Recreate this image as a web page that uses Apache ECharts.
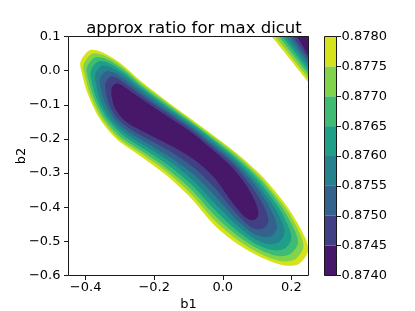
<!DOCTYPE html>
<html><head><meta charset="utf-8">
<script src="https://cdn.jsdelivr.net/npm/echarts@6/dist/echarts.min.js"></script>
<style>html,body{margin:0;padding:0;background:#fff}#c{width:415px;height:311px}</style>
</head><body><div id="c"></div>
<script>
// ---- data ----
const xRange = [-0.45, 0.25];
const yRange = [-0.6, 0.1];
const xTicks = [-0.4, -0.2, 0.0, 0.2];
const yTicks = [-0.6, -0.5, -0.4, -0.3, -0.2, -0.1, 0.0, 0.1];
const levels = [0.874, 0.8745, 0.875, 0.8755, 0.876, 0.8765, 0.877, 0.8775, 0.878];

// main valley contours (b1, b2), outermost level first
const c8780 = [[-0.415,0.026],[-0.388,0.060],[-0.347,0.052],[-0.300,0.023],[-0.242,-0.028],[-0.169,-0.085],[-0.096,-0.139],[-0.023,-0.193],[0.050,-0.250],[0.123,-0.318],[0.196,-0.410],[0.240,-0.489],[0.249,-0.530],[0.222,-0.566],[0.181,-0.571],[0.123,-0.552],[0.050,-0.512],[-0.023,-0.454],[-0.096,-0.370],[-0.169,-0.303],[-0.242,-0.249],[-0.309,-0.201],[-0.359,-0.141],[-0.394,-0.068],[-0.412,-0.003]];
const c8775 = [[-0.406,0.018],[-0.380,0.050],[-0.342,0.043],[-0.297,0.015],[-0.241,-0.034],[-0.169,-0.089],[-0.097,-0.142],[-0.024,-0.196],[0.048,-0.253],[0.117,-0.320],[0.186,-0.407],[0.226,-0.480],[0.235,-0.519],[0.210,-0.553],[0.171,-0.558],[0.117,-0.540],[0.047,-0.499],[-0.023,-0.440],[-0.094,-0.360],[-0.166,-0.295],[-0.238,-0.243],[-0.304,-0.198],[-0.352,-0.141],[-0.386,-0.072],[-0.403,-0.010]];
const c8770 = [[-0.396,0.010],[-0.372,0.039],[-0.337,0.033],[-0.294,0.006],[-0.239,-0.041],[-0.169,-0.094],[-0.097,-0.146],[-0.026,-0.200],[0.045,-0.257],[0.111,-0.321],[0.174,-0.403],[0.211,-0.471],[0.219,-0.507],[0.196,-0.538],[0.161,-0.543],[0.111,-0.526],[0.045,-0.485],[-0.023,-0.425],[-0.092,-0.348],[-0.163,-0.287],[-0.234,-0.237],[-0.298,-0.194],[-0.345,-0.141],[-0.377,-0.077],[-0.394,-0.018]];
const c8765 = [[-0.385,0.001],[-0.363,0.027],[-0.330,0.021],[-0.290,-0.005],[-0.237,-0.049],[-0.169,-0.100],[-0.098,-0.150],[-0.027,-0.204],[0.042,-0.261],[0.104,-0.323],[0.161,-0.398],[0.193,-0.460],[0.200,-0.493],[0.181,-0.521],[0.149,-0.526],[0.103,-0.511],[0.041,-0.468],[-0.023,-0.408],[-0.090,-0.335],[-0.159,-0.277],[-0.229,-0.230],[-0.291,-0.189],[-0.336,-0.141],[-0.368,-0.082],[-0.383,-0.028]];
const c8760 = [[-0.372,-0.010],[-0.352,0.014],[-0.323,0.008],[-0.286,-0.016],[-0.235,-0.057],[-0.169,-0.106],[-0.099,-0.155],[-0.029,-0.209],[0.039,-0.266],[0.096,-0.326],[0.146,-0.393],[0.174,-0.447],[0.180,-0.477],[0.164,-0.502],[0.135,-0.508],[0.095,-0.494],[0.038,-0.450],[-0.023,-0.389],[-0.088,-0.320],[-0.155,-0.266],[-0.224,-0.222],[-0.284,-0.184],[-0.327,-0.142],[-0.357,-0.088],[-0.370,-0.038]];
const c8755 = [[-0.358,-0.022],[-0.340,-0.002],[-0.316,-0.007],[-0.282,-0.029],[-0.233,-0.067],[-0.169,-0.113],[-0.100,-0.160],[-0.031,-0.214],[0.036,-0.271],[0.088,-0.328],[0.130,-0.388],[0.152,-0.434],[0.158,-0.460],[0.145,-0.482],[0.121,-0.487],[0.086,-0.475],[0.034,-0.430],[-0.023,-0.367],[-0.085,-0.304],[-0.151,-0.255],[-0.218,-0.214],[-0.276,-0.179],[-0.316,-0.142],[-0.344,-0.094],[-0.357,-0.049]];
const c8750 = [[-0.342,-0.035],[-0.327,-0.018],[-0.307,-0.022],[-0.277,-0.043],[-0.230,-0.078],[-0.169,-0.120],[-0.101,-0.166],[-0.033,-0.220],[0.032,-0.276],[0.078,-0.331],[0.112,-0.382],[0.129,-0.419],[0.133,-0.441],[0.124,-0.459],[0.104,-0.465],[0.076,-0.454],[0.029,-0.407],[-0.023,-0.344],[-0.082,-0.286],[-0.146,-0.241],[-0.212,-0.204],[-0.267,-0.173],[-0.305,-0.142],[-0.331,-0.101],[-0.342,-0.061]];
const c8745 = [[-0.324,-0.050],[-0.312,-0.038],[-0.297,-0.041],[-0.271,-0.059],[-0.227,-0.090],[-0.169,-0.129],[-0.102,-0.173],[-0.035,-0.227],[0.027,-0.283],[0.067,-0.334],[0.091,-0.375],[0.101,-0.401],[0.104,-0.419],[0.099,-0.432],[0.085,-0.438],[0.064,-0.429],[0.024,-0.381],[-0.023,-0.316],[-0.078,-0.265],[-0.140,-0.226],[-0.204,-0.193],[-0.256,-0.166],[-0.291,-0.142],[-0.315,-0.109],[-0.324,-0.076]];

// upper-right corner contours, outermost level first
const k8780 = [[0.143,0.1],[0.25,0.1],[0.25,-0.035]];
const k8775 = [[0.153,0.1],[0.25,0.1],[0.25,-0.024]];
const k8770 = [[0.164,0.1],[0.25,0.1],[0.25,-0.012]];
const k8765 = [[0.174,0.1],[0.25,0.1],[0.25,0.000]];
const k8760 = [[0.184,0.1],[0.25,0.1],[0.25,0.011]];
const k8755 = [[0.194,0.1],[0.25,0.1],[0.25,0.023]];
const k8750 = [[0.204,0.1],[0.25,0.1],[0.25,0.034]];
const k8745 = [[0.216,0.1],[0.25,0.1],[0.25,0.044]];

// ---- style ----
const bandColors = ['#47186a','#424085','#33628d','#26818e','#1f9f88','#3fbc73','#82d34c','#d6e21b'];
const font = 'DejaVu Sans';
const fmt1 = v => (v < -1e-9 ? '\u2212' : '') + Math.abs(v).toFixed(1);

const mainPolys = [c8780, c8775, c8770, c8765, c8760, c8755, c8750, c8745];
const cornerPolys = [k8780, k8775, k8770, k8765, k8760, k8755, k8750, k8745];

function polyRenderer(list, smooth) {
  return (params, api) => ({
    type: 'polygon',
    shape: { points: list[params.dataIndex].map(p => api.coord(p)), smooth: smooth },
    style: { fill: bandColors[7 - params.dataIndex] }
  });
}
function frameRenderer(params, api) {
  const cs = params.coordSys;
  return { type: 'rect', shape: { x: cs.x, y: cs.y, width: cs.width, height: cs.height },
    style: { fill: 'none', stroke: '#1a1a1a', lineWidth: 1 } };
}

const tickStyle = { color: '#1a1a1a', width: 1 };
const labelStyle = { color: '#000', fontSize: 13, fontFamily: font };
const hiddenLine = { show: false, onZero: false };

const chart = echarts.init(document.getElementById('c'), null, { renderer: 'canvas', width: 415, height: 311 });
chart.setOption({
  backgroundColor: '#fff',
  animation: false,
  title: { text: 'approx ratio for max dicut', left: 189, top: 15, textAlign: 'center',
    textStyle: { fontFamily: font, fontSize: 16.5, fontWeight: 'normal', color: '#000' } },
  grid: [
    { left: 68.5, top: 36.5, width: 240, height: 239, containLabel: false, outerBoundsMode: 'none' },
    { left: 324.5, top: 36.5, width: 12, height: 239, containLabel: false, outerBoundsMode: 'none' }
  ],
  xAxis: [
    { gridIndex: 0, type: 'value', min: xRange[0], max: xRange[1], position: 'bottom',
      axisLine: hiddenLine, splitLine: { show: false },
      axisTick: { show: true, customValues: xTicks, length: 4.5, lineStyle: tickStyle },
      axisLabel: Object.assign({ customValues: xTicks, formatter: fmt1, margin: 6 }, labelStyle),
      name: 'b1', nameLocation: 'middle', nameGap: 23, nameMoveOverlap: false, nameTextStyle: labelStyle },
    { gridIndex: 1, type: 'value', min: 0, max: 1, show: false }
  ],
  yAxis: [
    { gridIndex: 0, type: 'value', min: yRange[0], max: yRange[1], position: 'left',
      axisLine: hiddenLine, splitLine: { show: false },
      axisTick: { show: true, customValues: yTicks, length: 4.5, lineStyle: tickStyle },
      axisLabel: Object.assign({ customValues: yTicks, formatter: fmt1, margin: 8 }, labelStyle),
      name: 'b2', nameLocation: 'middle', nameGap: 40, nameRotate: 90, nameMoveOverlap: false, nameTextStyle: labelStyle },
    { gridIndex: 1, type: 'value', min: levels[0], max: levels[levels.length - 1], position: 'right',
      axisLine: hiddenLine, splitLine: { show: false },
      axisTick: { show: true, customValues: levels, length: 4.5, lineStyle: tickStyle },
      axisLabel: Object.assign({ customValues: levels, formatter: v => v.toFixed(4), margin: 5 }, labelStyle) }
  ],
  series: [
    { type: 'custom', xAxisIndex: 0, yAxisIndex: 0, clip: true, silent: true,
      data: mainPolys.map(c => c[0]), renderItem: polyRenderer(mainPolys, 0.3) },
    { type: 'custom', xAxisIndex: 0, yAxisIndex: 0, clip: true, silent: true,
      data: cornerPolys.map(c => c[0]), renderItem: polyRenderer(cornerPolys, 0) },
    { type: 'custom', xAxisIndex: 0, yAxisIndex: 0, silent: true, z: 10,
      data: [[0, 0]], renderItem: frameRenderer },
    { type: 'custom', xAxisIndex: 1, yAxisIndex: 1, silent: true,
      encode: { x: 0, y: [1, 2] },
      data: levels.slice(0, -1).map((lo, i) => [0.5, lo, levels[i + 1]]),
      renderItem: (params, api) => {
        const a = api.coord([0, api.value(2)]);
        const b = api.coord([1, api.value(1)]);
        return { type: 'rect', shape: { x: a[0], y: a[1], width: b[0] - a[0], height: b[1] - a[1] },
          style: { fill: bandColors[params.dataIndex] } };
      } },
    { type: 'custom', xAxisIndex: 1, yAxisIndex: 1, silent: true, z: 10,
      data: [[0.5, levels[0]]], renderItem: frameRenderer }
  ]
});
</script></body></html>
